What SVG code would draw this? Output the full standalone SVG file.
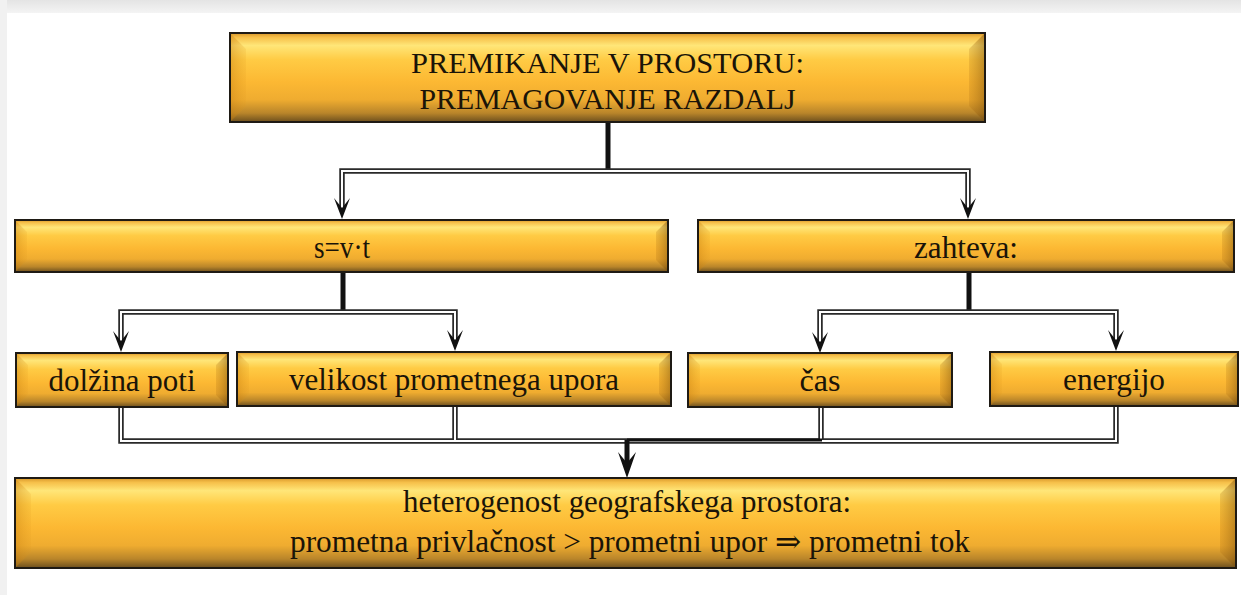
<svg xmlns="http://www.w3.org/2000/svg" width="1241" height="595" viewBox="0 0 1241 595">
<defs>
<linearGradient id="gTop" x1="0" y1="0" x2="0" y2="1">
<stop offset="0" stop-color="#e4e4e4"/><stop offset="1" stop-color="#f4f4f4"/>
</linearGradient>
<linearGradient id="gFace" x1="0" y1="0" x2="0" y2="1">
<stop offset="0" stop-color="#d8962a"/>
<stop offset="0.05" stop-color="#f6c04a"/>
<stop offset="0.14" stop-color="#ffe678"/>
<stop offset="0.3" stop-color="#ffcb44"/>
<stop offset="0.55" stop-color="#fcb833"/>
<stop offset="0.75" stop-color="#efac30"/>
<stop offset="0.9" stop-color="#b9852a"/>
<stop offset="1" stop-color="#6c4f1e"/>
</linearGradient>
<linearGradient id="gLeft" x1="0" y1="0" x2="1" y2="0">
<stop offset="0" stop-color="#c77f10" stop-opacity="0.45"/>
<stop offset="1" stop-color="#e09a20" stop-opacity="0.15"/>
</linearGradient>
<linearGradient id="gRight" x1="0" y1="0" x2="1" y2="0">
<stop offset="0" stop-color="#a86a10" stop-opacity="0.2"/>
<stop offset="1" stop-color="#7a4c08" stop-opacity="0.5"/>
</linearGradient>
<path id="ah" d="M0,0 L-8,-21 L0,-11 L8,-21 Z"/>
<path id="ahBig" d="M0,0 L-9,-26 L0,-15 L9,-26 Z"/>
</defs>
<style>
.face{fill:url(#gFace)}
.bl{fill:url(#gLeft)}
.br{fill:url(#gRight)}
.frame{fill:none;stroke:#1e1a14;stroke-width:2}
.t{font-family:'Liberation Serif','Tinos','DejaVu Serif',serif;font-size:31px;fill:#1a1408;text-anchor:middle}
.tt{font-size:30px}
.dbl{fill:none;stroke:#2a2a2a;stroke-width:5.5;stroke-linejoin:miter}
.dblw{fill:none;stroke:#ffffff;stroke-width:2;stroke-linejoin:miter}
.thick{fill:none;stroke:#111;stroke-width:5}
.ahf{fill:#111}
</style>

<rect x="0" y="0" width="1241" height="595" fill="#ffffff"/>
<rect x="0" y="0" width="1241" height="13" fill="url(#gTop)"/>
<rect x="0" y="0" width="7" height="595" fill="#f1f1f1"/>

<g id="connectors">
<path class="thick" d="M608,122 V171"/>
<path class="thick" d="M343,272 V312"/>
<path class="thick" d="M969,272 V312"/>
<g id="dbl-black">
<path class="dbl" d="M342,208 V171 H968 V208"/>
<path class="dbl" d="M121,341 V312 H455 V340"/>
<path class="dbl" d="M820,343 V312 H1116 V340"/>
<path class="dbl" d="M121,407 V441 H1116 V406"/>
<path class="dbl" d="M455,406 V441"/>
<path class="dbl" d="M821,407 V441"/>
</g>
<g id="dbl-white">
<path class="dblw" d="M342,208 V171 H968 V208"/>
<path class="dblw" d="M121,341 V312 H455 V340"/>
<path class="dblw" d="M820,343 V312 H1116 V340"/>
<path class="dblw" d="M121,407 V441 H1116 V406"/>
<path class="dblw" d="M455,406 V441"/>
<path class="dblw" d="M821,407 V441"/>
</g>
<path d="M627,440 H822" fill="none" stroke="#111" stroke-width="3"/>
<path class="thick" d="M627,440 V466" stroke-width="6"/>
<use href="#ah" class="ahf" transform="translate(342,219)"/>
<use href="#ah" class="ahf" transform="translate(968,219)"/>
<use href="#ah" class="ahf" transform="translate(121,352)"/>
<use href="#ah" class="ahf" transform="translate(455,351)"/>
<use href="#ah" class="ahf" transform="translate(820,353)"/>
<use href="#ah" class="ahf" transform="translate(1116,351)"/>
<use href="#ahBig" class="ahf" transform="translate(627,478)"/>
</g>

<g id="n-top">
<rect class="face" x="230" y="33" width="755" height="89"/>
<polygon class="bl" points="230,33 246,49 246,106 230,122"/>
<polygon class="br" points="985,33 969,49 969,106 985,122"/>
<rect class="frame" x="230" y="33" width="755" height="89"/>
<text class="t tt" x="607.5" y="73" textLength="393" lengthAdjust="spacingAndGlyphs">PREMIKANJE V PROSTORU:</text>
<text class="t tt" x="607.5" y="109" textLength="376" lengthAdjust="spacingAndGlyphs">PREMAGOVANJE RAZDALJ</text>
</g>

<g id="n-svt">
<rect class="face" x="15" y="220" width="653" height="52"/>
<polygon class="bl" points="15,220 27,232 27,260 15,272"/>
<polygon class="br" points="668,220 656,232 656,260 668,272"/>
<rect class="frame" x="15" y="220" width="653" height="52"/>
<text class="t" x="342" y="258" textLength="56" lengthAdjust="spacingAndGlyphs">s=v·t</text>
</g>

<g id="n-zahteva">
<rect class="face" x="698" y="220" width="536" height="52"/>
<polygon class="bl" points="698,220 710,232 710,260 698,272"/>
<polygon class="br" points="1234,220 1222,232 1222,260 1234,272"/>
<rect class="frame" x="698" y="220" width="536" height="52"/>
<text class="t" x="966" y="258" textLength="104" lengthAdjust="spacingAndGlyphs">zahteva:</text>
</g>

<g id="n-dolzina">
<rect class="face" x="16" y="353" width="212" height="54"/>
<polygon class="bl" points="16,353 28,365 28,395 16,407"/>
<polygon class="br" points="228,353 216,365 216,395 228,407"/>
<rect class="frame" x="16" y="353" width="212" height="54"/>
<text class="t" x="122" y="391" textLength="147" lengthAdjust="spacingAndGlyphs">dolžina poti</text>
</g>

<g id="n-velikost">
<rect class="face" x="237" y="352" width="434" height="54"/>
<polygon class="bl" points="237,352 249,364 249,394 237,406"/>
<polygon class="br" points="671,352 659,364 659,394 671,406"/>
<rect class="frame" x="237" y="352" width="434" height="54"/>
<text class="t" x="454" y="390" textLength="330" lengthAdjust="spacingAndGlyphs">velikost prometnega upora</text>
</g>

<g id="n-cas">
<rect class="face" x="688" y="353" width="264" height="54"/>
<polygon class="bl" points="688,353 700,365 700,395 688,407"/>
<polygon class="br" points="952,353 940,365 940,395 952,407"/>
<rect class="frame" x="688" y="353" width="264" height="54"/>
<text class="t" x="820" y="391" textLength="41" lengthAdjust="spacingAndGlyphs">čas</text>
</g>

<g id="n-energijo">
<rect class="face" x="990" y="352" width="248" height="54"/>
<polygon class="bl" points="990,352 1002,364 1002,394 990,406"/>
<polygon class="br" points="1238,352 1226,364 1226,394 1238,406"/>
<rect class="frame" x="990" y="352" width="248" height="54"/>
<text class="t" x="1114" y="390" textLength="102" lengthAdjust="spacingAndGlyphs">energijo</text>
</g>

<g id="n-bottom">
<rect class="face" x="15" y="478" width="1221" height="90"/>
<polygon class="bl" points="15,478 31,494 31,552 15,568"/>
<polygon class="br" points="1236,478 1220,494 1220,552 1236,568"/>
<rect class="frame" x="15" y="478" width="1221" height="90"/>
<text class="t" x="627" y="512" textLength="448" lengthAdjust="spacingAndGlyphs">heterogenost geografskega prostora:</text>
<text class="t" x="630" y="552" textLength="680" lengthAdjust="spacingAndGlyphs">prometna privlačnost &gt; prometni upor ⇒ prometni tok</text>
</g>
</svg>
